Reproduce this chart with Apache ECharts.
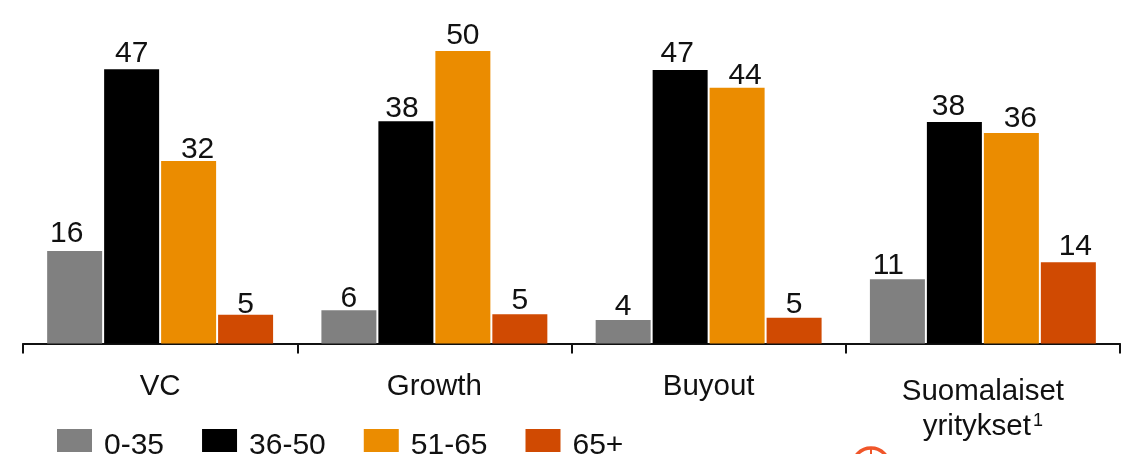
<!DOCTYPE html>
<html><head><meta charset="utf-8">
<style>html,body{margin:0;padding:0;background:#fff}#c{width:1122px;height:454px}</style>
<script src="https://cdn.jsdelivr.net/npm/echarts@6/dist/echarts.min.js"></script>
</head><body><div id="c"></div>
<script>
const categories = ['VC','Growth','Buyout','Suomalaiset\nyritykset¹'];
const seriesNames = ['0-35','36-50','51-65','65+'];
const colors = ['#808080','#000000','#EB8C00','#D04A02'];
// bar heights as drawn in the reference
const v0_35 = [15.8,5.7,4.0,11.0];
const v36_50 = [46.9,38.0,46.75,37.85];
const v51_65 = [31.2,50,43.7,36.0];
const v65plus = [4.9,5.0,4.4,13.9];
const values = [v0_35,v36_50,v51_65,v65plus];
// numbers as printed in the reference
const l0_35 = ['16','6','4','11'];
const l36_50 = ['47','38','47','38'];
const l51_65 = ['32','50','44','36'];
const l65plus = ['5','5','5','14'];
const printed = [l0_35,l36_50,l51_65,l65plus];
// hand-placed label nudges seen in the reference, [dx,dy] per series per category
const labelNudges = [
  [[-8,-1],[0,5],[0,3],[-9,3]],
  [[0,1],[-4,4],[-3,0],[-6,1]],
  [[9,5],[0,1],[8,4],[9,2]],
  [[0,6],[0,2],[0,3],[7,1]]
];
const font = '"Liberation Sans", Arial, sans-serif';
const chart = echarts.init(document.getElementById('c'),null,{renderer:'canvas'});
chart.setOption({
  animation:false,
  backgroundColor:'#fff',
  grid:{left:23,right:2,top:51,bottom:110.5,containLabel:false},
  legend:{
    left:57,top:429,padding:0,itemWidth:35,itemHeight:23,itemGap:38,
    icon:'rect',
    formatter:n=>'{t|'+n+'}',
    textStyle:{
      fontFamily:font,fontSize:30,color:'#111',
      rich:{t:{fontFamily:font,fontSize:30,color:'#111',padding:[10,0,0,7]}}
    },
    itemStyle:{borderWidth:0},
    data:seriesNames
  },
  xAxis:{
    type:'category',
    data:categories.map((c,i)=> i===3 ? {value:c,textStyle:{padding:[5,0,0,0]}} : c),
    axisLine:{lineStyle:{color:'#111',width:2}},
    axisTick:{show:true,length:10,lineStyle:{color:'#111',width:2}},
    axisLabel:{
      fontFamily:font,fontSize:29.5,color:'#111',margin:26,lineHeight:35,interval:0,
      formatter:v=>v.replace('¹','{sup|1}'),
      rich:{sup:{fontFamily:font,fontSize:18,color:'#111',padding:[0,0,12,2],lineHeight:35}}
    }
  },
  yAxis:{type:'value',min:0,max:50,show:false,splitLine:{show:false}},
  series:seriesNames.map((n,i)=>({
    name:n,type:'bar',barWidth:55,barGap:'3.6%',
    itemStyle:{color:colors[i]},
    data:values[i].map((v,j)=>({value:v,label:{offset:labelNudges[i][j],formatter:printed[i][j]}})),
    label:{show:true,position:'top',distance:1,fontFamily:font,fontSize:30,color:'#111'}
  })),
  graphic:[{
    type:'group',silent:true,
    children:[
      {type:'circle',shape:{cx:871,cy:466.5,r:18.5},style:{fill:'none',stroke:'#F0562A',lineWidth:3.5}},
      {type:'line',shape:{x1:871,y1:448,x2:871,y2:485},style:{stroke:'#F0562A',lineWidth:2}}
    ]
  }]
});
</script></body></html>
